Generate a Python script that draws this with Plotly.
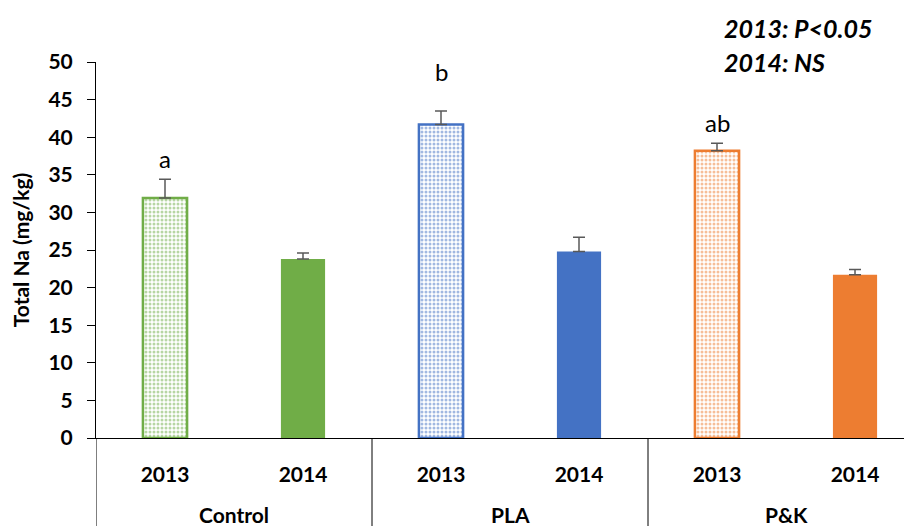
import plotly.graph_objects as go

groups = ["Control", "PLA", "P&K"]
years = ["2013", "2014"]
na_2013 = [31.9, 41.7, 38.2]
na_2014 = [23.8, 24.8, 21.7]
err_2013 = [2.5, 1.8, 1.0]
err_2014 = [0.8, 1.9, 0.7]
letters_2013 = ["a", "b", "ab"]
letters_y = [37.2, 48.7, 42.0]
colors = ["#70AD47", "#4472C4", "#ED7D31"]

x13 = [2 * i for i in range(len(groups))]
x14 = [2 * i + 1 for i in range(len(groups))]

FONT = "Lato, 'Open Sans', sans-serif"

fig = go.Figure()
fig.add_trace(go.Bar(
    x=x13, y=na_2013, width=0.32,
    marker=dict(color="white", line=dict(color=colors, width=2.5),
                pattern=dict(shape=".", fgcolor=colors, bgcolor="white", size=4, solidity=0.45)),
    error_y=dict(type="data", symmetric=False, array=err_2013, arrayminus=[0] * 3,
                 color="#595959", thickness=1.5, width=6),
    showlegend=False,
))
fig.add_trace(go.Bar(
    x=x14, y=na_2014, width=0.32,
    marker=dict(color=colors, line=dict(width=0)),
    error_y=dict(type="data", symmetric=False, array=err_2014, arrayminus=[0] * 3,
                 color="#595959", thickness=1.5, width=6),
    showlegend=False,
))

# significance letters
for xi, ly, t in zip(x13, letters_y, letters_2013):
    fig.add_annotation(x=xi, y=ly, text=t, showarrow=False, yanchor="middle",
                       font=dict(size=24, color="#000", family=FONT))

# group labels and dividers
for i, g in enumerate(groups):
    fig.add_annotation(x=2 * i + 0.5, y=0, xref="x", yref="paper", text="<b>%s</b>" % g,
                       showarrow=False, yanchor="middle", yshift=-76,
                       font=dict(size=21, color="#000", family=FONT))
for i in range(len(groups) + 1):
    fig.add_shape(type="line", x0=2 * i - 0.5, x1=2 * i - 0.5, y0=0, y1=-0.3,
                  xref="x", yref="paper", line=dict(color="#000", width=1))

fig.add_annotation(x=0.767, y=1.0904, xref="paper", yref="paper", xanchor="left", yanchor="middle",
                   text="<b><i>2013: P<0.05</i></b>", showarrow=False,
                   font=dict(size=25, color="#000", family=FONT))
fig.add_annotation(x=0.767, y=1.0, xref="paper", yref="paper", xanchor="left", yanchor="middle",
                   text="<b><i>2014: NS</i></b>", showarrow=False,
                   font=dict(size=25, color="#000", family=FONT))

fig.update_layout(
    width=904, height=518,
    margin=dict(l=88, r=0, t=54, b=88),
    plot_bgcolor="white", paper_bgcolor="white",
    barmode="overlay",
    font=dict(family=FONT, color="#000"),
)
fig.update_xaxes(
    range=[-0.5, 5.413], tickmode="array", tickvals=x13 + x14,
    ticktext=[years[0]] * 3 + [years[1]] * 3,
    showline=True, linecolor="#000", linewidth=1, ticks="", showgrid=False,
    tickfont=dict(size=21, family=FONT, weight="bold"), ticklabelstandoff=18, zeroline=False,
    automargin=False,
)
fig.update_yaxes(
    range=[0, 50], dtick=5, showline=True, linecolor="#000", linewidth=1,
    ticks="outside", ticklen=8, tickcolor="#000", showgrid=False, zeroline=False,
    tickfont=dict(size=21, family=FONT, weight="bold"), ticklabelstandoff=10, automargin=False,
    title=dict(text="<b>Total Na (mg/kg)</b>", font=dict(size=21, family=FONT), standoff=14),
)

fig.write_html("out.html")
